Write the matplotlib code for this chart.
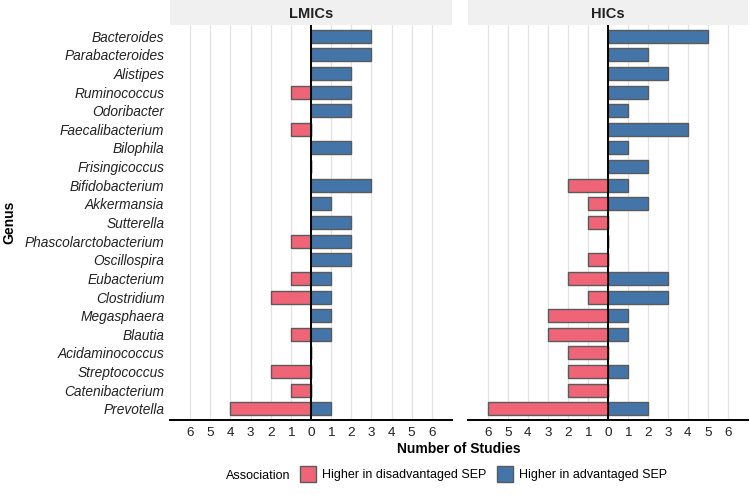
import matplotlib
matplotlib.use("Agg")
import matplotlib.pyplot as plt
from matplotlib.patches import Patch
import numpy as np

plt.rcParams['font.family'] = ['Liberation Sans', 'DejaVu Sans']

genera = ["Bacteroides", "Parabacteroides", "Alistipes", "Ruminococcus", "Odoribacter",
          "Faecalibacterium", "Bilophila", "Frisingicoccus", "Bifidobacterium", "Akkermansia",
          "Sutterella", "Phascolarctobacterium", "Oscillospira", "Eubacterium", "Clostridium",
          "Megasphaera", "Blautia", "Acidaminococcus", "Streptococcus", "Catenibacterium",
          "Prevotella"]

lmic_adv = [3, 3, 2, 2, 2, 0, 2, 0, 3, 1, 2, 2, 2, 1, 1, 1, 1, 0, 0, 0, 1]
lmic_dis = [0, 0, 0, 1, 0, 1, 0, 0, 0, 0, 0, 1, 0, 1, 2, 0, 1, 0, 2, 1, 4]
hic_adv = [5, 2, 3, 2, 1, 4, 1, 2, 1, 2, 0, 0, 0, 3, 3, 1, 1, 0, 1, 0, 2]
hic_dis = [0, 0, 0, 0, 0, 0, 0, 0, 2, 1, 1, 0, 1, 2, 1, 3, 3, 2, 2, 2, 6]

panels = ["LMICs", "HICs"]
legend_labels = ["Higher in disadvantaged SEP", "Higher in advantaged SEP"]
ticks = list(range(-6, 7))
tick_labels = [str(abs(t)) for t in ticks]

c_dis = "#F06478"
c_adv = "#4475A8"
edge = "#5a5a5a"

fig = plt.figure(figsize=(7.5, 4.95), dpi=100)
W, H = 750, 495
bottom_px, top_px = 420, 25
strip_h = 25
axes_pos = [(170, 452), (468, 748)]

n = len(genera)
ypos = np.arange(n)[::-1]

data = [(lmic_dis, lmic_adv), (hic_dis, hic_adv)]
for i, ((l, r), name) in enumerate(zip(axes_pos, panels)):
    ax = fig.add_axes([l / W, 1 - bottom_px / H, (r - l) / W, (bottom_px - top_px) / H])
    dis, adv = data[i]
    for t in ticks:
        if t != 0:
            ax.axvline(t, color="#e3e3e3", lw=0.9, zorder=0)
    ax.barh(ypos, [-v for v in dis], height=0.7, color=c_dis, edgecolor=edge, linewidth=1.0, zorder=2)
    ax.barh(ypos, adv, height=0.7, color=c_adv, edgecolor=edge, linewidth=1.0, zorder=2)
    ax.axvline(0, color="black", lw=1.4, zorder=3)
    ax.set_xlim(-7, 7)
    ax.set_ylim(-0.6, n - 1 + 0.6)
    ax.set_xticks(ticks)
    ax.set_xticklabels(tick_labels, fontsize=9.7, color="#222222")
    ax.tick_params(axis="x", length=0, pad=5)
    for s in ["top", "right", "left"]:
        ax.spines[s].set_visible(False)
    ax.spines["bottom"].set_linewidth(1.4)
    if i == 0:
        ax.set_yticks(ypos)
        ax.set_yticklabels(genera, fontsize=9.9, style="italic", color="#222222")
        ax.tick_params(axis="y", length=0, pad=4)
    else:
        ax.set_yticks([])
    # strip
    sax = fig.add_axes([l / W, 1 - top_px / H, (r - l) / W, strip_h / H])
    sax.set_facecolor("#f0f0f0")
    sax.set_xticks([]); sax.set_yticks([])
    for s in sax.spines.values():
        s.set_visible(False)
    sax.text(0.5, 0.45, name, ha="center", va="center", fontsize=10.5, fontweight="bold",
             color="#222222", transform=sax.transAxes)

fig.text(459 / W, 1 - 449 / H, "Number of Studies", ha="center", va="center",
         fontsize=10, fontweight="bold")
fig.text(9 / W, 1 - 222 / H, "Genus", ha="center", va="center", rotation=90,
         fontsize=10, fontweight="bold")

handles = [Patch(facecolor=c_dis, edgecolor=edge, label=legend_labels[0]),
           Patch(facecolor=c_adv, edgecolor=edge, label=legend_labels[1])]
fig.text(290 / W, 1 - 474.5 / H, "Association", ha="right", va="center_baseline", fontsize=9)
fig.legend(handles=handles, loc="center left", bbox_to_anchor=(300 / W, 1 - 474 / H),
           ncol=2, frameon=False, fontsize=9, handlelength=1.3, handleheight=1.6,
           handletextpad=0.5, columnspacing=0.8, borderpad=0, borderaxespad=0)

fig.savefig("out.png", dpi=100)
